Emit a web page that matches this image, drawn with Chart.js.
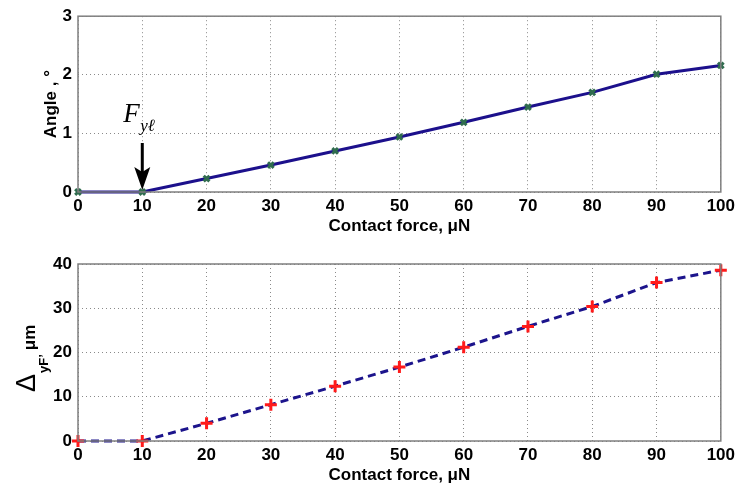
<!DOCTYPE html>
<html>
<head>
<meta charset="utf-8">
<script src="https://cdn.jsdelivr.net/npm/chart.js@4.4.1/dist/chart.umd.min.js"></script>
<style>
    body { margin: 0; background: #fff; }
    .wrap { position: absolute; left: 0; width: 739px; }
</style>
</head>
<body>
<div class="wrap" style="top:0px; height:240px;"><canvas id="angle" width="739" height="240"></canvas></div>
<div class="wrap" style="top:240px; height:247px;"><canvas id="delta" width="739" height="247"></canvas></div>
<script>
// data
const force = [0, 10, 20, 30, 40, 50, 60, 70, 80, 90, 100];
const angle = [0, 0, 0.23, 0.46, 0.70, 0.94, 1.19, 1.45, 1.70, 2.01, 2.16];
const deltaYF = [0, 0, 4.0, 8.2, 12.4, 16.7, 21.2, 25.9, 30.4, 35.8, 38.6];
const angleTicks = [0, 1, 2, 3];
const deltaTicks = [0, 10, 20, 30, 40];

const tickFont = { family: 'Arial, "Liberation Sans", sans-serif', size: 17, weight: 'bold' };
const gridStyle = { color: '#8a8a8a', lineWidth: 1, drawTicks: false };

// box round the plot, axis titles and the F_yl note
const frame = {
    id: 'frame',
    afterDraw(chart, args, opts) {
        const ctx = chart.ctx;
        const a = chart.chartArea;
        ctx.save();
        ctx.strokeStyle = '#7f7f7f';
        ctx.lineWidth = 1.5;
        ctx.strokeRect(a.left, a.top, a.right - a.left, a.bottom - a.top);

        ctx.fillStyle = '#000';
        ctx.font = 'bold 17px Arial, "Liberation Sans", sans-serif';
        ctx.textAlign = 'center';
        ctx.textBaseline = 'alphabetic';
        ctx.fillText('Contact force, \u03bcN', (a.left + a.right) / 2, a.bottom + 39);

        if (opts.which == 'angle') {
            ctx.save();
            ctx.translate(56, (a.top + a.bottom) / 2);
            ctx.rotate(-Math.PI / 2);
            ctx.textAlign = 'center';
            ctx.font = 'bold 17px Arial, "Liberation Sans", sans-serif';
            ctx.fillText('Angle , \u00b0', 0, 0);
            ctx.restore();

            // arrow at the yield force
            const x = chart.scales.x.getPixelForValue(10);
            const y = chart.scales.y.getPixelForValue(0);
            ctx.strokeStyle = '#000';
            ctx.lineWidth = 3;
            ctx.beginPath();
            ctx.moveTo(x, y - 49);
            ctx.lineTo(x, y - 20);
            ctx.stroke();
            ctx.beginPath();
            ctx.moveTo(x - 8, y - 25);
            ctx.lineTo(x, y - 2);
            ctx.lineTo(x + 8, y - 25);
            ctx.lineTo(x, y - 20);
            ctx.closePath();
            ctx.fill();

            ctx.textAlign = 'left';
            ctx.font = 'italic 27px "Liberation Serif", "DejaVu Serif", serif';
            ctx.fillText('F', x - 19, y - 70);
            ctx.font = 'italic 17px "Liberation Serif", "DejaVu Serif", serif';
            ctx.fillText('y\u2113', x - 2, y - 61);
        } else {
            ctx.save();
            ctx.translate(35, a.bottom - 49);
            ctx.rotate(-Math.PI / 2);
            ctx.textAlign = 'left';
            ctx.font = '27px Arial, "Liberation Sans", sans-serif';
            ctx.fillText('\u0394', 0, 0);
            let w = ctx.measureText('\u0394').width + 1;
            ctx.font = 'bold 13px Arial, "Liberation Sans", sans-serif';
            ctx.fillText('yF\u2019', w, 13);
            w += ctx.measureText('yF\u2019').width + 4;
            ctx.font = 'bold 17px Arial, "Liberation Sans", sans-serif';
            ctx.fillText('\u03bcm', w, 0);
            ctx.restore();
        }
        ctx.restore();
    }
};

function makeChart(id, values, yTicks, yMax, top, xHeight, which, line) {
    new Chart(document.getElementById(id), {
        type: 'line',
        data: {
            datasets: [{
                data: force.map((f, i) => ({ x: f, y: values[i] })),
                clip: false,
                ...line
            }]
        },
        options: {
            responsive: false,
            animation: false,
            layout: { padding: { top: top, right: 16, left: 0, bottom: 0 } },
            plugins: {
                legend: { display: false },
                tooltip: { enabled: false },
                frame: { which: which }
            },
            scales: {
                x: {
                    type: 'linear',
                    min: 0, max: 100,
                    afterBuildTicks: s => { s.ticks = force.map(v => ({ value: v })); },
                    afterFit: s => { s.height = xHeight; },
                    grid: gridStyle,
                    border: { display: false, dash: [1, 3] },
                    ticks: { color: '#000', font: tickFont, padding: 4, maxRotation: 0 }
                },
                y: {
                    min: 0, max: yMax,
                    afterBuildTicks: s => { s.ticks = yTicks.map(v => ({ value: v })); },
                    afterFit: s => { s.width = 78; },
                    grid: gridStyle,
                    border: { display: false, dash: [1, 3] },
                    ticks: { color: '#000', font: tickFont, padding: 6 }
                }
            }
        },
        plugins: [frame]
    });
}

makeChart('angle', angle, angleTicks, 3, 14, 48, 'angle', {
    borderColor: '#1c108c',
    borderWidth: 3,
    pointStyle: 'crossRot',
    pointRadius: 4,
    pointBorderWidth: 3,
    pointBorderColor: '#2f6c4e',
    pointBackgroundColor: '#2f6c4e',
    tension: 0
});

makeChart('delta', deltaYF, deltaTicks, 40, 24, 46, 'delta', {
    borderColor: '#1c148c',
    borderWidth: 3,
    borderDash: [8, 5],
    pointStyle: 'cross',
    pointRadius: 6,
    pointBorderWidth: 3,
    pointBorderColor: '#ff1a1a',
    tension: 0
});
</script>
</body>
</html>
